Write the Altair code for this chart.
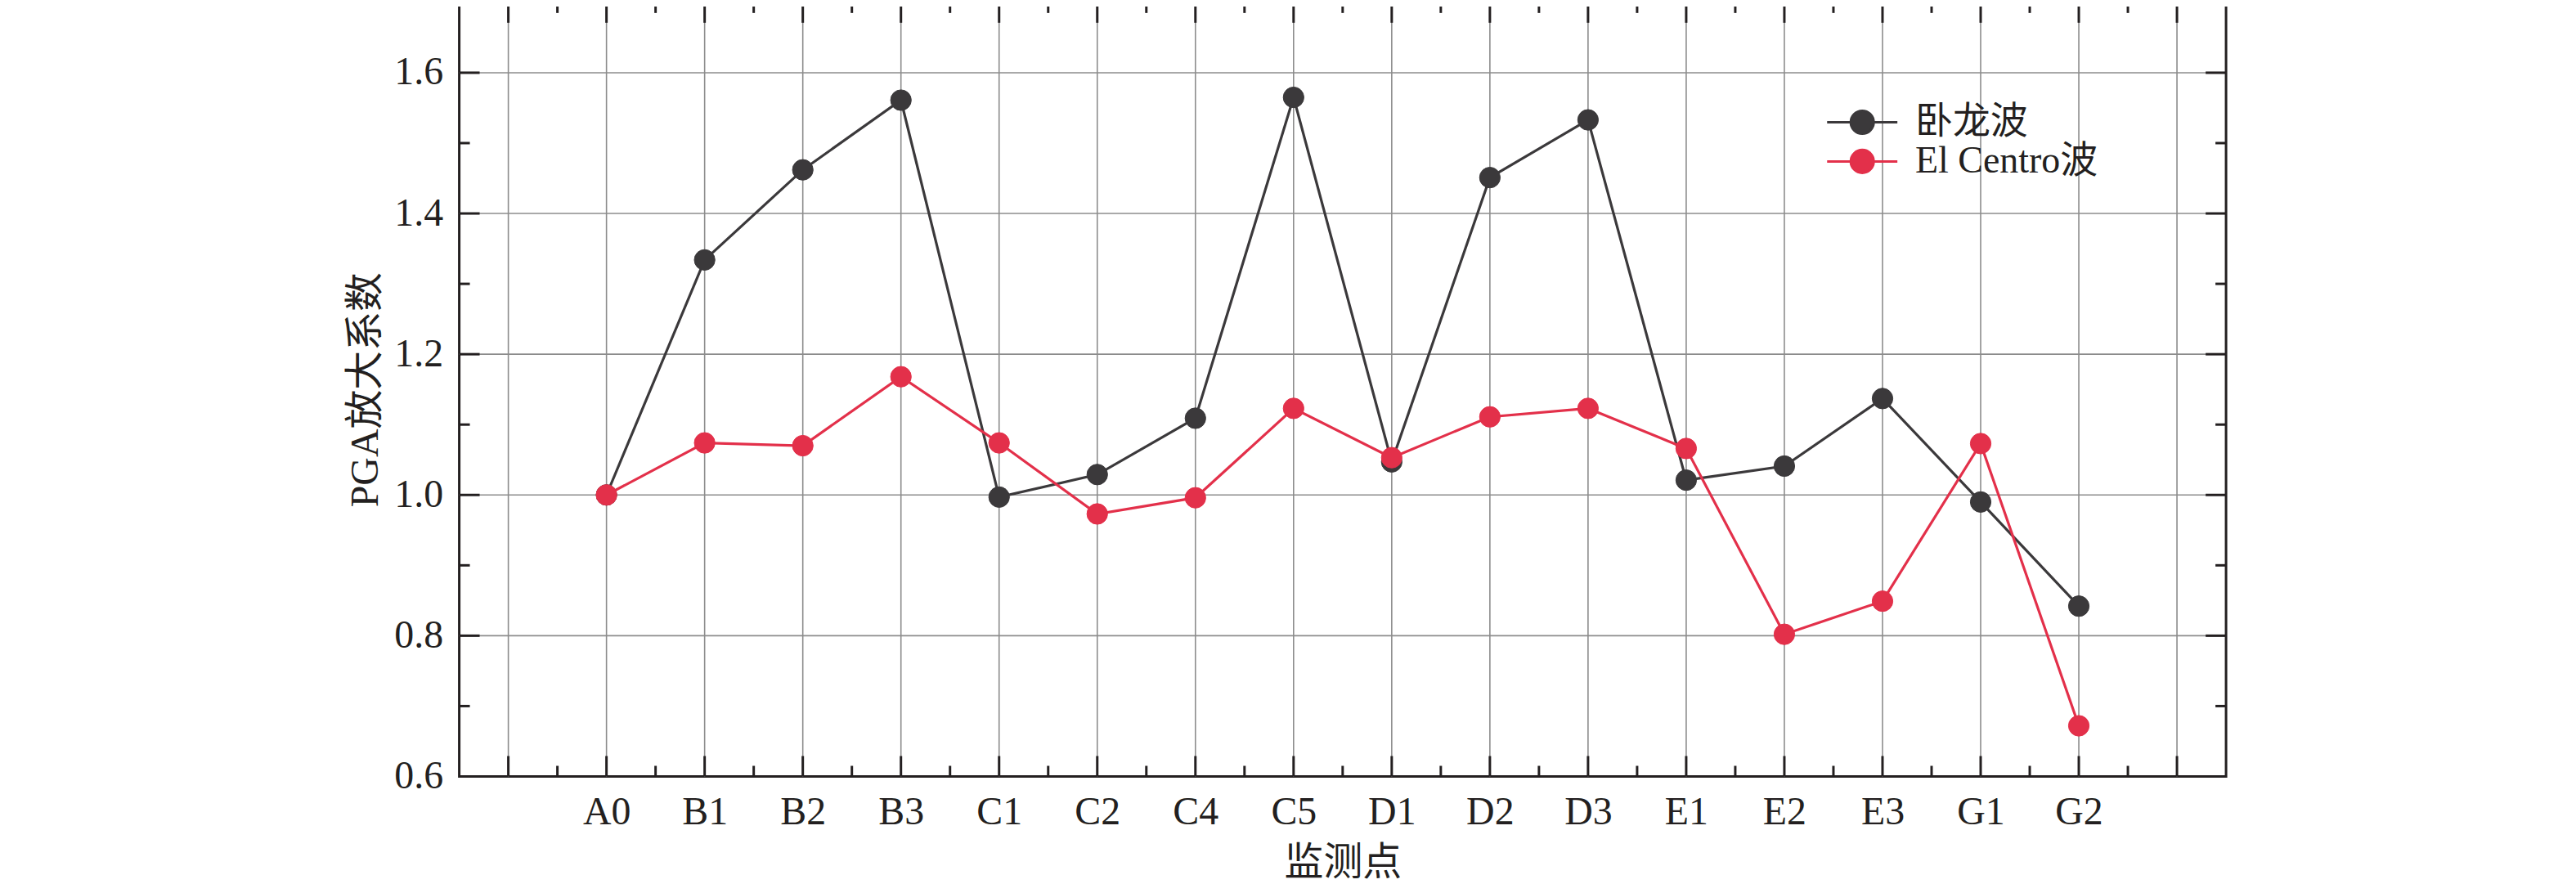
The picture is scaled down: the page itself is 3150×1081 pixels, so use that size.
import altair as alt
import pandas as pd

# ---- data ----
categories = ["A0", "B1", "B2", "B3", "C1", "C2", "C4", "C5",
              "D1", "D2", "D3", "E1", "E2", "E3", "G1", "G2"]
wolong = [1.000, 1.334, 1.462, 1.561, 0.997, 1.029, 1.109, 1.565,
          1.047, 1.451, 1.533, 1.021, 1.041, 1.137, 0.990, 0.842]
elcentro = [1.000, 1.074, 1.070, 1.168, 1.074, 0.973, 0.996, 1.123,
            1.053, 1.111, 1.123, 1.066, 0.802, 0.849, 1.073, 0.672]
series_names = ["卧龙波", "El Centro波"]
series_colors = ["#3b393b", "#e3304a"]

y_labels = [0.6, 0.8, 1.0, 1.2, 1.4, 1.6]
y_grid = [0.8, 1.0, 1.2, 1.4, 1.6]
y_minor = [0.7, 0.9, 1.1, 1.3, 1.5]
x_major = [1, 2, 3, 4, 5, 6, 7, 8, 9, 10, 11, 12, 13, 14, 15, 16, 17, 18]
x_minor = [1.5, 2.5, 3.5, 4.5, 5.5, 6.5, 7.5, 8.5, 9.5, 10.5, 11.5,
           12.5, 13.5, 14.5, 15.5, 16.5, 17.5]

W, H = 2166, 949
FONT = "Times New Roman, Liberation Serif, Noto Sans CJK SC"
INK = "#231f20"
GRID = "#8c8c8c"

# positions: first category sits at x = 2 on an axis running 0.5 .. 18.5
rows = []
for i, c in enumerate(categories):
    rows.append({"cat": c, "pos": i + 2, "value": wolong[i], "series": series_names[0]})
    rows.append({"cat": c, "pos": i + 2, "value": elcentro[i], "series": series_names[1]})
df = pd.DataFrame(rows)

label_list = ["", ""] + categories + ["", ""]
label_expr = "[" + ",".join("'" + s + "'" for s in label_list) + "][datum.value]"

xscale = alt.Scale(domain=[0.5, 18.5], nice=False, zero=False)
yscale = alt.Scale(domain=[0.6, 1.7], nice=False, zero=False)

xaxis = alt.Axis(values=list(range(2, 18)), labelExpr=label_expr, grid=False,
                 ticks=False, tickSize=0, domain=False, labelFont=FONT,
                 labelFontSize=48, labelColor=INK, labelPadding=20,
                 labelBaseline="top", title="监测点", titleFont=FONT,
                 titleFontSize=48, titleFontWeight="normal", titleColor=INK,
                 titlePadding=14)
yaxis = alt.Axis(values=y_labels, format=".1f", grid=False, ticks=False,
                 tickSize=0, domain=False, labelFont=FONT, labelFontSize=48,
                 labelColor=INK, labelPadding=20, title="PGA放大系数",
                 titleFont=FONT, titleFontSize=48, titleFontWeight="normal",
                 titleColor=INK, titlePadding=10)

X = alt.X("pos:Q", scale=xscale, axis=xaxis)
Y = alt.Y("value:Q", scale=yscale, axis=yaxis)

xg = pd.DataFrame({"pos": x_major})
xm = pd.DataFrame({"pos": x_minor})
yg = pd.DataFrame({"value": y_grid})
yl = pd.DataFrame({"value": y_labels})
ym = pd.DataFrame({"value": y_minor})

grid_x = alt.Chart(xg).mark_rule(color=GRID, strokeWidth=1.6).encode(
    x=X, y=alt.value(0), y2=alt.value(H))
grid_y = alt.Chart(yg).mark_rule(color=GRID, strokeWidth=1.6).encode(
    y=Y, x=alt.value(0), x2=alt.value(W))

def xticks(d, length):
    bot = alt.Chart(d).mark_rule(color=INK, strokeWidth=3).encode(
        x=X, y=alt.value(H), y2=alt.value(H - length))
    top = alt.Chart(d).mark_rule(color=INK, strokeWidth=3).encode(
        x=X, y=alt.value(0), y2=alt.value(length))
    return bot + top

def yticks(d, length):
    left = alt.Chart(d).mark_rule(color=INK, strokeWidth=3).encode(
        y=Y, x=alt.value(0), x2=alt.value(length))
    right = alt.Chart(d).mark_rule(color=INK, strokeWidth=3).encode(
        y=Y, x=alt.value(W), x2=alt.value(W - length))
    return left + right

legend_path = ("M-2.97,0L2.97,0M-0.97,0A0.97,0.97,0,1,0,0.97,0"
               "A0.97,0.97,0,1,0,-0.97,0Z")
legend = alt.Legend(title=None, orient="none", legendX=1697, legendY=124,
                    symbolType=legend_path, symbolSize=841,
                    symbolStrokeWidth=3, symbolOpacity=1,
                    labelFont=FONT, labelFontSize=46, labelColor=INK,
                    labelLimit=0, labelOffset=42, rowPadding=2, padding=0)

cscale = alt.Scale(domain=series_names, range=series_colors)
fill = alt.Fill("series:N", scale=cscale, legend=legend)
stroke = alt.Stroke("series:N", scale=cscale, legend=legend)

base = alt.Chart(df)
layers = []
for name, col in zip(series_names, series_colors):
    sub = base.transform_filter(alt.datum.series == name)
    layers.append(sub.mark_line(strokeWidth=3.2, color=col).encode(x=X, y=Y))
    layers.append(sub.mark_circle(size=640, opacity=1, strokeWidth=1).encode(
        x=X, y=Y, fill=fill, stroke=stroke))

chart = alt.layer(
    grid_x, grid_y,
    xticks(xg, 25), xticks(xm, 13), yticks(yl, 25), yticks(ym, 13),
    *layers
).properties(
    width=W, height=H,
    background="white",
    autosize=alt.AutoSizeParams(type="none"),
    padding={"left": 555, "top": -6.5, "right": 421, "bottom": 131},
).configure_view(
    stroke=INK, strokeWidth=3
)

chart.save("out.html", embed_options={"renderer": "svg", "actions": False})
